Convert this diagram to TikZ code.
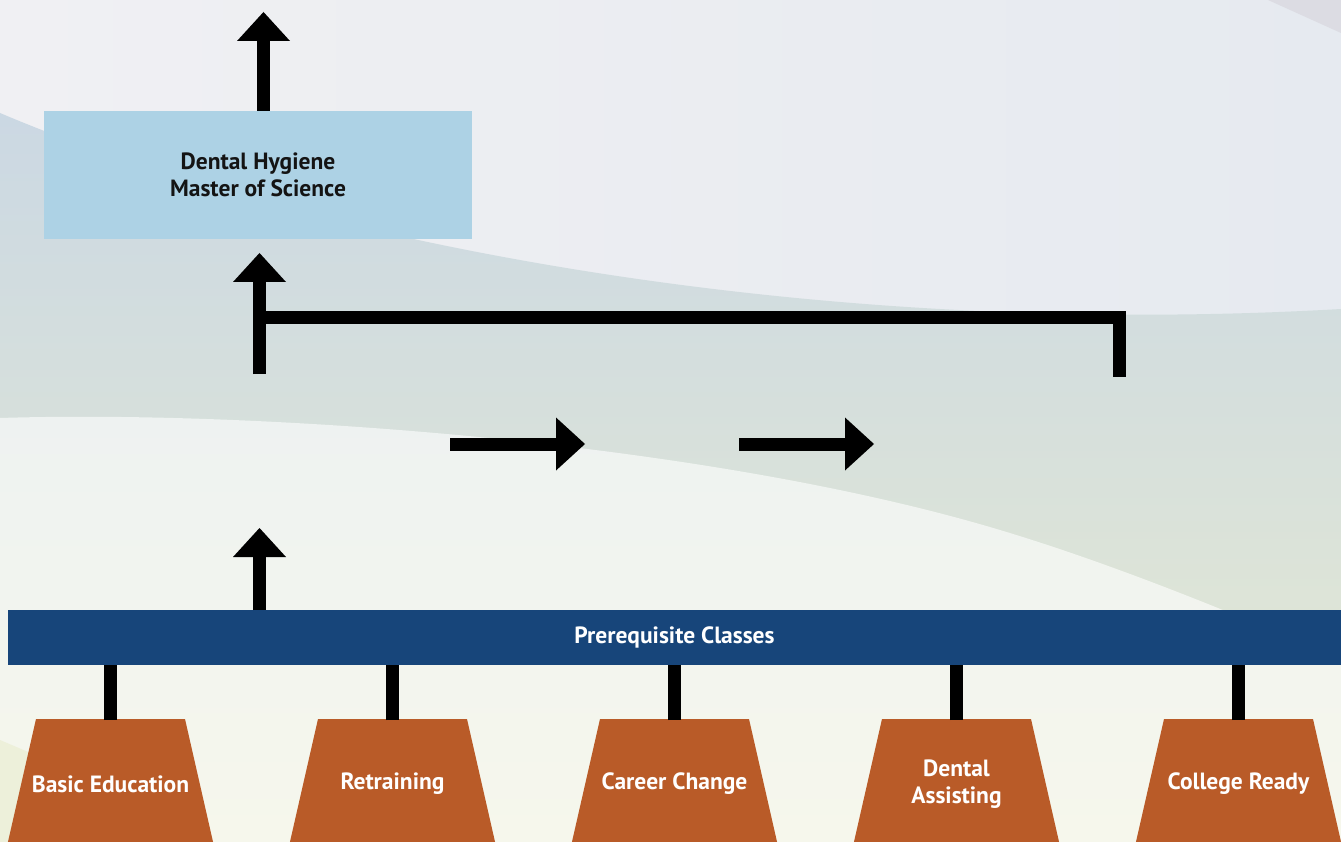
\documentclass[tikz,border=0pt]{standalone}
\usepackage{fontspec}
\setmainfont{PT Sans}
\usetikzlibrary{arrows.meta}
\definecolor{boxblue}{HTML}{ADD2E5}
\definecolor{barblue}{HTML}{17457A}
\definecolor{rust}{HTML}{B95B28}
\definecolor{dhtext}{HTML}{141414}
\definecolor{bgL}{HTML}{F0F0F3}
\definecolor{bgR}{HTML}{E6EAF0}
\definecolor{wedge}{HTML}{DCDCE3}
\definecolor{bandT}{HTML}{CBD8E3}
\definecolor{bandB}{HTML}{E6EAD2}
\definecolor{lowT}{HTML}{EEF2F1}
\definecolor{lowB}{HTML}{F6F7EC}
\definecolor{yel}{HTML}{EDF0DA}
\begin{document}
\begin{tikzpicture}[x=1pt,y=-1pt,
  conn/.style={line width=13pt, draw=black},
  arr/.style={conn, -{Triangle[length=29pt,width=53pt,line width=0pt]}},
  lbl/.style={font=\fontsize{23.5}{27}\selectfont\bfseries, align=center},
  traptext/.style={rectangle, minimum width=149pt, minimum height=128pt,
    inner sep=0pt, outer sep=0pt, text=white, lbl},
  rectbox/.style={rectangle, inner sep=0pt, outer sep=0pt, lbl}
]
\useasboundingbox (0,0) rectangle (1341,842);
\begin{scope}
\clip (0,0) rectangle (1341,842);
% background
\shade[left color=bgL, right color=bgR] (0,0) rectangle (1341,842);
\fill[wedge] (1268,0) -- (1341,33) -- (1341,0) -- cycle;
\shade[top color=bandT, bottom color=bandB]
  (0,113) .. controls (300,240) and (800,340) .. (1341,309)
  -- (1341,842) -- (0,842) -- cycle;
\shade[top color=lowT, bottom color=lowB]
  (0,418) .. controls (250,410) and (700,440) .. (1000,530)
  .. controls (1120,566) and (1250,620) .. (1341,660)
  -- (1341,842) -- (0,842) -- cycle;
\fill[yel] (0,740) -- (40,757) -- (130,842) -- (0,842) -- cycle;

% main nodes
\node[rectbox, fill=boxblue, minimum width=428pt, minimum height=128pt, text=dhtext]
  (dh) at (258,175) {Dental Hygiene\\Master of Science};
\node[rectbox, fill=barblue, minimum width=1333pt, minimum height=55pt, text=white]
  (pre) at (674.5,637.5) {Prerequisite Classes};

% trapezoid bodies
\foreach \x in {110.5,392.5,674.5,956.5,1238.5}
  \fill[rust] (\x-74.5,719) -- (\x+74.5,719) -- (\x+103.7,847) -- (\x-103.7,847) -- cycle;

\node[traptext] (t1) at (110.5,784) {Basic Education};
\node[traptext] (t2) at (392.5,784) {Retraining};
\node[traptext] (t3) at (674.5,784) {Career Change};
\node[traptext] (t4) at (956.5,784) {Dental\\Assisting};
\node[traptext] (t5) at (1238.5,784) {College Ready};

% free ends
\coordinate (top) at (263.5,12);
\coordinate (up2) at (259.5,253);
\coordinate (up2s) at (259.5,374);
\coordinate (j) at (259.5,317.5);
\coordinate (brk) at (1119,377);
\coordinate (up3) at (259.5,528);
\coordinate (h1s) at (450,444);
\coordinate (h1e) at (585,444);
\coordinate (h2s) at (739,444);
\coordinate (h2e) at (874,444);

% connectors
\draw[arr] (top |- dh.north) -- (top);
\draw[arr] (up2s) -- (up2);
\draw[conn, line join=miter] (j) -| (brk);
\draw[arr] (up3 |- pre.north) -- (up3);
\draw[arr] (h1s) -- (h1e);
\draw[arr] (h2s) -- (h2e);
\draw[conn] (t1.north) -- (t1.north |- pre.south);
\draw[conn] (t2.north) -- (t2.north |- pre.south);
\draw[conn] (t3.north) -- (t3.north |- pre.south);
\draw[conn] (t4.north) -- (t4.north |- pre.south);
\draw[conn] (t5.north) -- (t5.north |- pre.south);
\end{scope}
\end{tikzpicture}
\end{document}
